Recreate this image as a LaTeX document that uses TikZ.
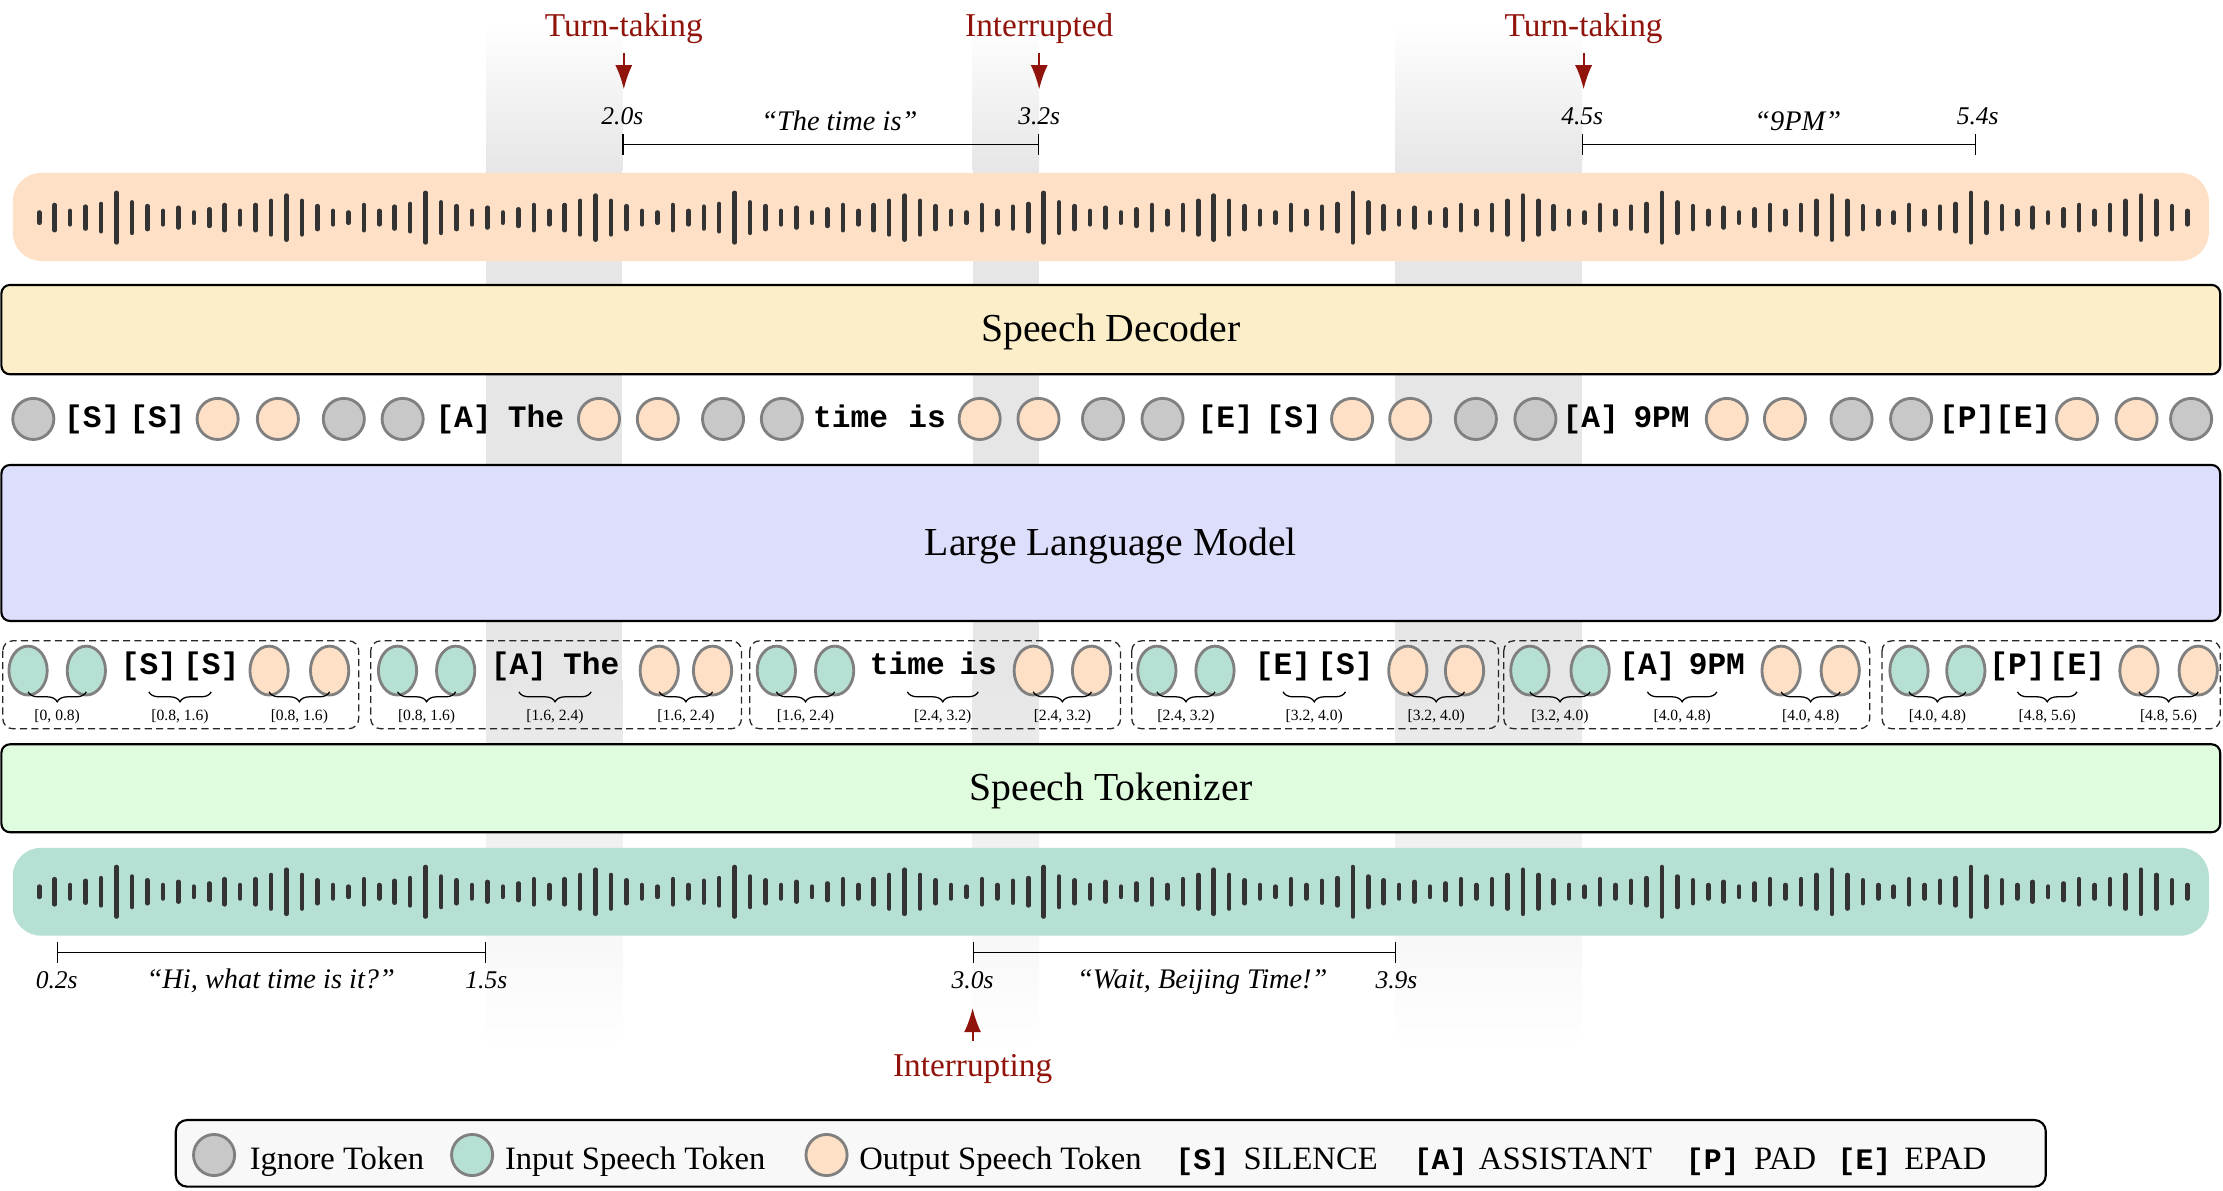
\documentclass[tikz,border=0pt]{standalone}
\usepackage{fontspec}
\setmainfont{Liberation Serif}
\setmonofont{Liberation Mono}
\usetikzlibrary{positioning,arrows.meta,shapes.geometric,decorations.pathreplacing}

\definecolor{igngray}{RGB}{200,200,200}
\definecolor{ringgray}{RGB}{128,128,128}
\definecolor{inteal}{RGB}{183,224,212}
\definecolor{outpeach}{RGB}{253,224,197}
\definecolor{decfill}{RGB}{251,238,201}
\definecolor{llmfill}{RGB}{221,222,251}
\definecolor{tkzfill}{RGB}{223,252,223}
\definecolor{bandgray}{RGB}{230,230,230}
\definecolor{barcol}{RGB}{51,51,51}
\definecolor{cuered}{RGB}{145,20,12}
\definecolor{legfill}{RGB}{248,248,248}

% waveform bars round a centre line
\newcommand{\drawwave}[1]{%
	\foreach \i in {0,...,139}{%
		\pgfmathsetmacro{\hh}{0.5*(1.06*{9.9,19.8,12.0,17.6,21.2,36.0,23.3,18.3,12.0,16.2,9.9,14.1,19.8,12.0,19.8,25.4,32.4,25.4,18.3,12.0}[mod(\i,20)]-3.2)}
		\draw[wavebar] (27.7+10.9*\i, #1-\hh) -- (27.7+10.9*\i, #1+\hh);
	}}

\begin{document}
\begin{tikzpicture}[x=1pt, y=-1pt,
	ign/.style = {draw=ringgray, line width=2pt, fill=igngray, circle, minimum size=29pt, inner sep=0pt},
	tall/.style = {ellipse, minimum width=27pt, minimum height=34.5pt},
	tok/.style = {font=\ttfamily\bfseries\fontsize{22}{24}\selectfont, inner sep=0pt, anchor=base},
	layer/.style = {draw, line width=1.5pt, rounded corners=6pt, minimum width=1565pt, text height=17pt, text depth=0pt, font=\fontsize{28}{32}\selectfont},
	grpbox/.style = {draw=black!85, line width=0.9pt, dash pattern=on 5pt off 3pt, rounded corners=7pt},
	tokbrace/.style = {decorate, decoration={brace, mirror, amplitude=7pt}, line width=0.9pt},
	spanlbl/.style = {font=\fontsize{11}{12}\selectfont, inner sep=0pt, below=12pt},
	tlbl/.style = {font=\itshape\fontsize{18}{20}\selectfont, inner sep=0pt, anchor=base},
	qlbl/.style = {tlbl, font=\itshape\fontsize{20}{22}\selectfont},
	timespan/.style = {{Bar[width=15pt]}-{Bar[width=15pt]}, line width=0.8pt},
	cue/.style = {text=cuered, font=\fontsize{23.5}{26}\selectfont, inner sep=0pt, anchor=base},
	cuearrow/.style = {-{Latex[length=17pt,width=12pt]}, draw=cuered, line width=1.4pt},
	wavebar/.style = {draw=barcol, line width=3.2pt, line cap=round},
	leg/.style = {font=\fontsize{23}{26}\selectfont, inner sep=0pt, anchor=base west},
	legtok/.style = {font=\ttfamily\bfseries\fontsize{21}{24}\selectfont, inner sep=0pt, anchor=base west}]

	\useasboundingbox (0,0) rectangle (1568,839.4);

	% grey time bands
	\foreach \ba/\bb in {343/439, 686/733, 984/1116}{
		\shade[top color=white, bottom color=bandgray] (\ba,16) rectangle (\bb,120);
		\fill[bandgray] (\ba,119.5) rectangle (\bb,480.5);
		\shade[top color=bandgray, bottom color=white] (\ba,480) rectangle (\bb,740);
	}

	% output and input speech
	\fill[outpeach, rounded corners=20pt] (9,122) rectangle (1558,184);
	\drawwave{153.5}
	\fill[inteal, rounded corners=20pt] (9,598) rectangle (1558,660);
	\drawwave{629}

	\node[layer, fill=decfill, minimum height=63pt] (dec) at (783.5,232.5) {Speech Decoder};
	\node[layer, fill=llmfill, minimum height=110pt] (llm) at (783.5,383) {Large Language Model};
	\node[layer, fill=tkzfill, minimum height=62pt] (tkz) at (783.5,556) {Speech Tokenizer};

	% decoder side tokens
	\foreach \x/\fc [count=\k] in {23.5/igngray, 153.5/outpeach, 196/outpeach, 242.5/igngray, 284/igngray, 422.5/outpeach, 464/outpeach, 510/igngray, 551.5/igngray, 691/outpeach, 732.5/outpeach, 778/igngray, 820/igngray, 953.7/outpeach, 994.7/outpeach, 1041/igngray, 1083/igngray, 1218/outpeach, 1259/outpeach, 1306/igngray, 1348/igngray, 1465/outpeach, 1507/outpeach, 1545.5/igngray}
		\node[ign, fill=\fc] (r\k) at (\x,295.5) {};
	\foreach \x/\tx [count=\k] in {65/[S], 111/[S], 327/[A], 378/The, 600/time, 654/is, 864.5/[E], 912.5/[S], 1122/[A], 1172/9PM, 1387.5/[P], 1427/[E]}
		\node[tok] (rw\k) at (\x,301.5) {\tx};

	% tokenizer side chunks
	\foreach \bl/\br/\ta/\tb/\wa/\wb/\sa/\sb/\oa/\ob/\ka/\kb/\kc [count=\g] in {
		2/253/19.8/60.9/105/149/[S]/[S]/189.8/232.5/0/0.8/1.6,
		261.5/523/280.4/321.4/366/417/[A]/The/465/502.6/0.8/1.6/2.4,
		528.8/790.4/547.6/588.7/640/690/time/is/728.8/769.9/1.6/2.4/3.2,
		798.3/1057/816/857/905/949/[E]/[S]/993/1033/2.4/3.2/4.0,
		1060.7/1318.8/1079.1/1121.6/1162/1211/[A]/9PM/1256.3/1298/3.2/4.0/4.8,
		1327.5/1566/1346.5/1386.6/1423/1465/[P]/[E]/1508.7/1550.5/4.0/4.8/5.6}{
		\draw[grpbox] (\bl,452) rectangle (\br,514);
		\node[ign, tall, fill=inteal] (ti\g-1) at (\ta,473) {};
		\node[ign, tall, fill=inteal] (ti\g-2) at (\tb,473) {};
		\node[tok] (tw\g-1) at (\wa,476) {\sa};
		\node[tok] (tw\g-2) at (\wb,476) {\sb};
		\node[ign, tall, fill=outpeach] (to\g-1) at (\oa,473) {};
		\node[ign, tall, fill=outpeach] (to\g-2) at (\ob,473) {};
		\draw[tokbrace] ([yshift=-15pt]ti\g-1.center) -- node[spanlbl] {[\ka, \kb)} ([yshift=-15pt]ti\g-2.center);
		\draw[tokbrace] ([yshift=-12pt]tw\g-1.base) -- node[spanlbl] {[\kb, \kc)} ([yshift=-12pt]tw\g-2.base);
		\draw[tokbrace] ([yshift=-15pt]to\g-1.center) -- node[spanlbl] {[\kb, \kc)} ([yshift=-15pt]to\g-2.center);
	}

	% timing above
	\node[cue] (cue1) at (440,26) {Turn-taking};
	\node[cue] (cue2) at (733,26) {Interrupted};
	\node[cue] (cue3) at (1117,26) {Turn-taking};
	\coordinate (cue1tip) at (440,63);
	\coordinate (cue2tip) at (733,63);
	\coordinate (cue3tip) at (1117,63);
	\draw[cuearrow, shorten <=6.4pt] (cue1) -- (cue1tip);
	\draw[cuearrow, shorten <=6.4pt] (cue2) -- (cue2tip);
	\draw[cuearrow, shorten <=6.4pt] (cue3) -- (cue3tip);

	\node[tlbl] (t20) at (439,88) {2.0s};
	\node[tlbl] (t32) at (733,88) {3.2s};
	\node[tlbl] (t45) at (1116,88) {4.5s};
	\node[tlbl] (t54) at (1395,88) {5.4s};
	\node[qlbl] (q1) at (592,91.7) {“The time is”};
	\node[qlbl] (q2) at (1268,91.7) {“9PM”};
	\coordinate (s1a) at (439,102);
	\coordinate (s1b) at (733,102);
	\coordinate (s2a) at (1116,102);
	\coordinate (s2b) at (1394,102);
	\draw[timespan] (s1a) -- (s1b);
	\draw[timespan] (s2a) -- (s2b);

	% timing below
	\coordinate (s3a) at (40,671.6);
	\coordinate (s3b) at (343,671.6);
	\coordinate (s4a) at (686,671.6);
	\coordinate (s4b) at (985,671.6);
	\draw[timespan] (s3a) -- (s3b);
	\draw[timespan] (s4a) -- (s4b);
	\node[tlbl] (t02) at (40,697) {0.2s};
	\node[tlbl] (t15) at (343,697) {1.5s};
	\node[tlbl] (t30) at (686,697) {3.0s};
	\node[tlbl] (t39) at (985,697) {3.9s};
	\node[qlbl] (q3) at (191,697) {“Hi, what time is it?”};
	\node[qlbl] (q4) at (848,697) {“Wait, Beijing Time!”};

	\node[cue] (cue4) at (686,759) {Interrupting};
	\coordinate (cue4tip) at (686,711);
	\draw[cuearrow, shorten <=8.8pt] (cue4) -- (cue4tip);

	% legend
	\draw[line width=1.5pt, fill=legfill, rounded corners=8pt] (124,790) rectangle (1443,837);
	\node[ign] (lg1) at (151,814.7) {};
	\node[leg] (lt1) at (176,825) {Ignore Token};
	\node[ign, fill=inteal] (lg2) at (333,814.7) {};
	\node[leg] (lt2) at (356,825) {Input Speech Token};
	\node[ign, fill=outpeach] (lg3) at (583,814.7) {};
	\node[leg] (lt3) at (606,825) {Output Speech Token};
	\node[legtok] (lk1) at (829,825) {[S]};
	\node[leg] (lt4) at (877,825) {SILENCE};
	\node[legtok] (lk2) at (997,825) {[A]};
	\node[leg] (lt5) at (1043,825) {ASSISTANT};
	\node[legtok] (lk3) at (1189,825) {[P]};
	\node[leg] (lt6) at (1237,825) {PAD};
	\node[legtok] (lk4) at (1296,825) {[E]};
	\node[leg] (lt7) at (1343,825) {EPAD};
\end{tikzpicture}
\end{document}
